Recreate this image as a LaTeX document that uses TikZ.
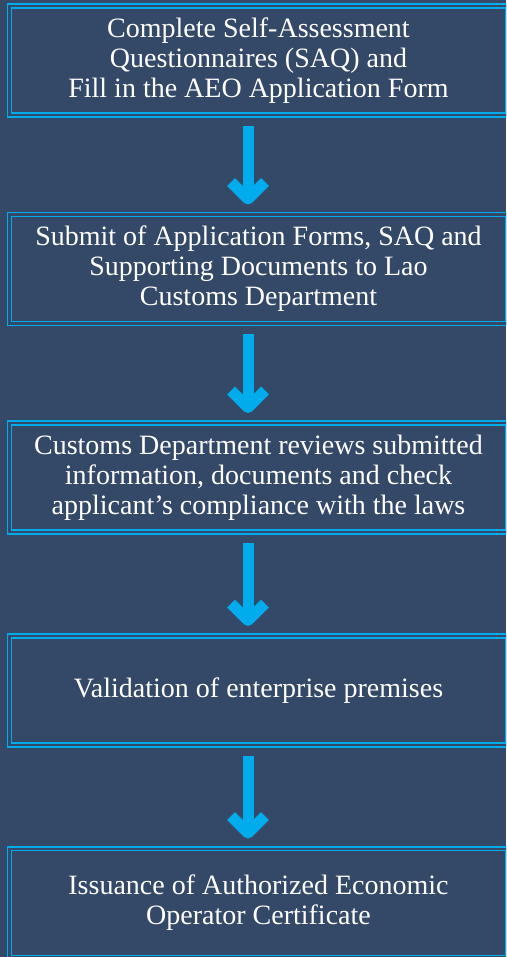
\documentclass[tikz,border=0pt]{standalone}
\usepackage{fontspec}
\setmainfont{Liberation Serif}
\definecolor{slate}{RGB}{52,73,104}
\definecolor{skyblue}{RGB}{0,172,236}
\tikzset{
  stage/.style={draw=skyblue, line width=1.6pt, double=slate, double distance=2.2pt,
    minimum width=498pt, minimum height=108.8pt, outer sep=0pt, inner sep=0pt,
    text=white, align=center, font=\fontsize{28}{30}\selectfont},
  shaft/.style={draw=skyblue, line width=11pt, line cap=butt},
  chevron/.style={draw=skyblue, line width=11pt, line cap=butt, line join=round}
}
\begin{document}
\begin{tikzpicture}[x=1pt,y=-1pt]
        \fill[slate] (0,0) rectangle (506,957);
        \useasboundingbox (0,0) rectangle (506,957);
        \clip (0,0) rectangle (506,957);

        \node[stage] (s1) at (258.5,60.5) {Complete Self-Assessment\\Questionnaires (SAQ) and\\Fill in the AEO Application Form};
        \node[stage] (s2) at (258.5,269) {Submit of Application Forms, SAQ and\\Supporting Documents to Lao\\Customs Department};
        \node[stage] (s3) at (258.5,477.5) {Customs Department reviews submitted\\information, documents and check\\applicant’s compliance with the laws};
        \node[stage] (s4) at (258.5,690.5) {Validation of enterprise premises};
        \node[stage] (s5) at (258.5,903) {Issuance of Authorized Economic\\Operator Certificate};

        \foreach \a/\b in {s1/s2,s2/s3,s3/s4,s4/s5}{
        \draw[shaft] ([xshift=-10.5pt,yshift=-11pt]\a.south) -- ([xshift=-10.5pt,yshift=15.6pt]\b.north);
        \draw[chevron] ([xshift=-27.5pt,yshift=32.6pt]\b.north) -- ([xshift=-10.5pt,yshift=15.6pt]\b.north)
          -- ([xshift=6.5pt,yshift=32.6pt]\b.north);
        }
      \end{tikzpicture}
\end{document}
